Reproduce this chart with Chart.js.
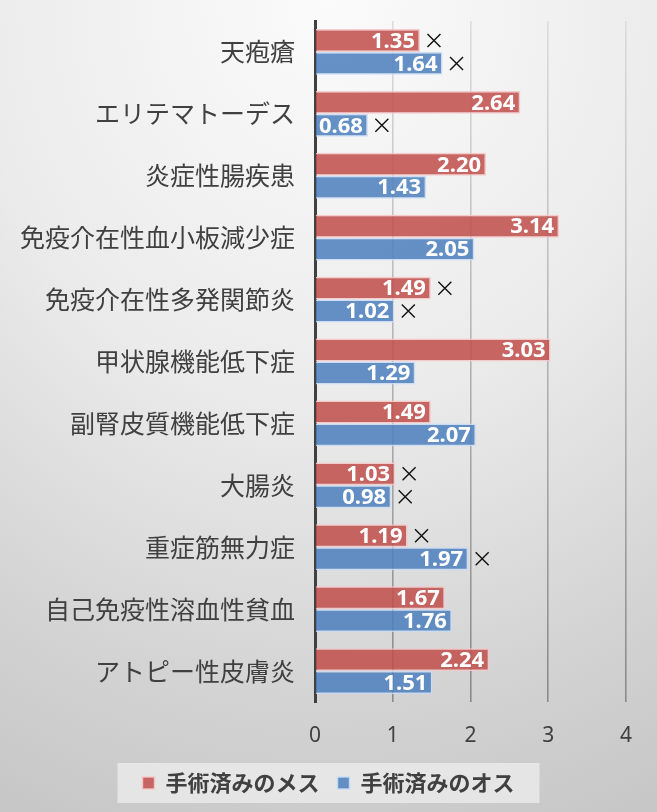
<!DOCTYPE html>
<html>
<head>
<meta charset="utf-8">
<script src="https://cdn.jsdelivr.net/npm/chart.js@4/dist/chart.umd.min.js"></script>
<style>
  html, body { margin: 0; padding: 0; }
  body {
    width: 657px; height: 812px; overflow: hidden;
    background: radial-gradient(ellipse 120% 110% at 50% 0%, #fbfbfb 0%, #ebebeb 45%, #d2d2d2 80%, #c6c6c6 100%);
  }
  canvas { display: block; }
</style>
</head>
<body>
<canvas id="myChart" width="657" height="812"></canvas>
<script>
// categories (top to bottom)
const byouki = ["天疱瘡", "エリテマトーデス", "炎症性腸疾患", "免疫介在性血小板減少症", "免疫介在性多発関節炎",
  "甲状腺機能低下症", "副腎皮質機能低下症", "大腸炎", "重症筋無力症", "自己免疫性溶血性貧血", "アトピー性皮膚炎"]

// series values
const mesu = [1.35, 2.64, 2.20, 3.14, 1.49, 3.03, 1.49, 1.03, 1.19, 1.67, 2.24]
const osu = [1.64, 0.68, 1.43, 2.05, 1.02, 1.29, 2.07, 0.98, 1.97, 1.76, 1.51]

// × marks next to bars (1 = shown)
const batsuMesu = [1, 0, 0, 0, 1, 0, 0, 1, 1, 0, 0]
const batsuOsu = [1, 1, 0, 0, 1, 0, 0, 1, 1, 0, 0]

const xTicks = [0, 1, 2, 3, 4]

const ctx = document.getElementById("myChart").getContext('2d')

let gridGrad = null
function gridColor(c) {
  const area = c.chart.chartArea
  if (!area) return "#b0b0b0"
  if (!gridGrad) {
    gridGrad = c.chart.ctx.createLinearGradient(0, area.top, 0, area.bottom)
    gridGrad.addColorStop(0, "#dcdcdc")
    gridGrad.addColorStop(1, "#8a8a8a")
  }
  return gridGrad
}

// light box behind the legend, legend centred on the full width
const legendBox = {
  id: "legendBox",
  afterLayout(chart) {
    const lg = chart.legend
    if (lg) lg.left += chart.width - lg.right
  },
  beforeDraw(chart) {
    const lg = chart.legend
    if (!lg) return
    const c = chart.ctx
    const cx = (lg.left + lg.right) / 2
    const cy = lg.top + 18 + 11
    c.save()
    c.fillStyle = "rgba(238,238,238,0.75)"
    c.fillRect(cx - 211, cy - 20, 422, 40)
    c.restore()
  }
}

// value labels + × marks
const etiquetas = {
  id: "etiquetas",
  afterDatasetsDraw(chart) {
    const c = chart.ctx
    const marks = [batsuMesu, batsuOsu]
    chart.data.datasets.forEach((ds, di) => {
      const meta = chart.getDatasetMeta(di)
      meta.data.forEach((bar, i) => {
        c.save()
        c.font = "bold 22px 'Noto Sans', sans-serif"
        c.fillStyle = "#ffffff"
        c.textAlign = "right"
        c.textBaseline = "middle"
        c.fillText(ds.data[i].toFixed(2), bar.x - 5, bar.y + 1)
        if (marks[di][i]) {
          const mx = bar.x + 14
          const my = bar.y
          c.strokeStyle = "#111111"
          c.lineWidth = 1.4
          c.beginPath()
          c.moveTo(mx - 6.5, my - 6.5)
          c.lineTo(mx + 6.5, my + 6.5)
          c.moveTo(mx + 6.5, my - 6.5)
          c.lineTo(mx - 6.5, my + 6.5)
          c.stroke()
        }
        c.restore()
      })
    })
  }
}

const data = {
  labels: byouki,
  datasets: [{
    label: "手術済みのメス",
    data: mesu,
    backgroundColor: "rgba(192,80,77,0.87)",
    borderColor: "rgba(245,200,200,0.9)",
    borderWidth: 1.5,
    categoryPercentage: 0.74,
    barPercentage: 1.0
  }, {
    label: "手術済みのオス",
    data: osu,
    backgroundColor: "rgba(79,129,189,0.87)",
    borderColor: "rgba(200,220,245,0.9)",
    borderWidth: 1.5,
    categoryPercentage: 0.74,
    barPercentage: 1.0
  }]
}

const config = {
  type: "bar",
  data,
  plugins: [legendBox, etiquetas],
  options: {
    indexAxis: "y",
    responsive: false,
    animation: false,
    layout: { padding: { top: 21, right: 31, bottom: 8, left: 0 } },
    plugins: {
      tooltip: { enabled: false },
      legend: {
        position: "bottom",
        labels: {
          boxWidth: 12,
          boxHeight: 12,
          padding: 18,
          color: "#404040",
          font: { family: "'Noto Sans CJK JP', sans-serif", size: 22, weight: "bold" }
        }
      }
    },
    scales: {
      x: {
        min: 0,
        max: 4,
        afterBuildTicks(scale) {
          scale.ticks = xTicks.map(v => ({ value: v }))
        },
        afterFit(scale) {
          scale.height = 52
          scale.paddingLeft = 0
          scale.paddingRight = 0
        },
        grid: { color: gridColor, lineWidth: 1.6, drawTicks: false },
        border: { display: false },
        ticks: {
          padding: 21,
          color: "#404040",
          font: { family: "'Noto Sans', sans-serif", size: 21 }
        }
      },
      y: {
        afterFit(scale) {
          scale.width = 315
          scale.paddingTop = 0
          scale.paddingBottom = 0
        },
        grid: { display: false },
        border: { display: true, color: "#404040", width: 3 },
        ticks: {
          padding: 12,
          color: "#404040",
          font: { family: "'Noto Sans CJK JP', sans-serif", size: 25 }
        }
      }
    }
  }
}

const myChart = new Chart(ctx, config)
</script>
</body>
</html>
